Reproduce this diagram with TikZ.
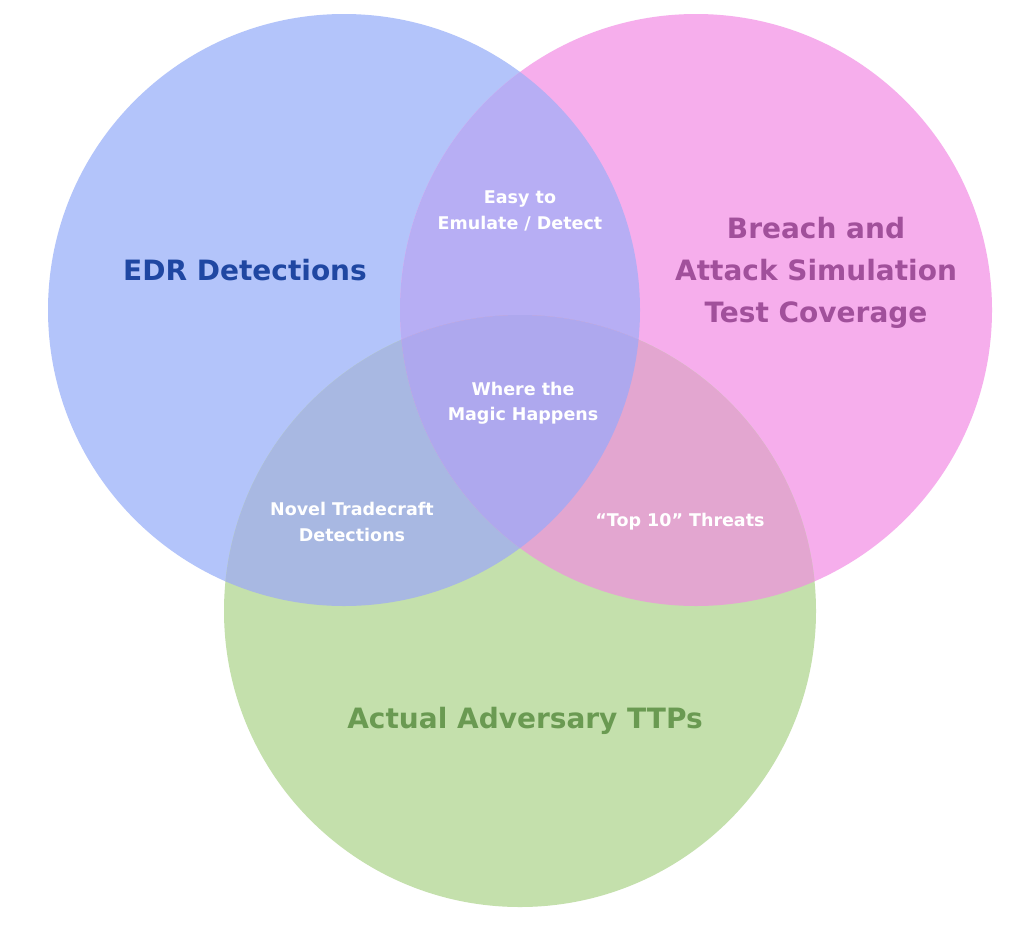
\documentclass[tikz,border=0pt]{standalone}
\usepackage{fontspec}
\setmainfont{DejaVu Sans}
\definecolor{cB}{HTML}{B3C4FA}
\definecolor{cP}{HTML}{F6AEEC}
\definecolor{cG}{HTML}{C4E0AC}
\definecolor{cBP}{HTML}{B7AEF4}
\definecolor{cBG}{HTML}{A8B8E2}
\definecolor{cPG}{HTML}{E3A6D0}
\definecolor{cBPG}{HTML}{AEA8EE}
\definecolor{tB}{HTML}{1F47A2}
\definecolor{tP}{HTML}{A1509B}
\definecolor{tG}{HTML}{6A9A52}
\tikzset{
  big/.style={font=\fontsize{28}{42}\selectfont\bfseries, align=center, inner sep=0pt},
  small/.style={font=\fontsize{17.5}{25.5}\selectfont\bfseries, text=white, align=center, inner sep=0pt},
}
\begin{document}
\begin{tikzpicture}[x=1pt,y=-1pt]
\useasboundingbox (0,0) rectangle (1024,926);
\fill[white] (0,0) rectangle (1024,926);
\coordinate (cb) at (344,310);
\coordinate (cp) at (696,310);
\coordinate (cg) at (520,611);
\def\R{296}
\fill[cB] (cb) circle[radius=\R];
\fill[cP] (cp) circle[radius=\R];
\fill[cG] (cg) circle[radius=\R];
\begin{scope}
  \clip (cb) circle[radius=\R];
  \fill[cBP] (cp) circle[radius=\R];
  \fill[cBG] (cg) circle[radius=\R];
\end{scope}
\begin{scope}
  \clip (cp) circle[radius=\R];
  \fill[cPG] (cg) circle[radius=\R];
\end{scope}
\begin{scope}
  \clip (cb) circle[radius=\R];
  \clip (cp) circle[radius=\R];
  \fill[cBPG] (cg) circle[radius=\R];
\end{scope}
\node[big, text=tB] (edr) at (245,270) {EDR Detections};
\node[big, text=tP] (bas) at (816,273) {Breach and\\Attack Simulation\\Test Coverage};
\node[big, text=tG] (ttp) at (525,721) {Actual Adversary TTPs};
\node[small] (easy) at (520,211) {Easy to\\Emulate / Detect};
\node[small] (magic) at (523,403) {Where the\\Magic Happens};
\node[small] (novel) at (352,522) {Novel Tradecraft\\Detections};
\node[small] (top) at (680,522) {“Top 10” Threats};
\end{tikzpicture}
\end{document}
